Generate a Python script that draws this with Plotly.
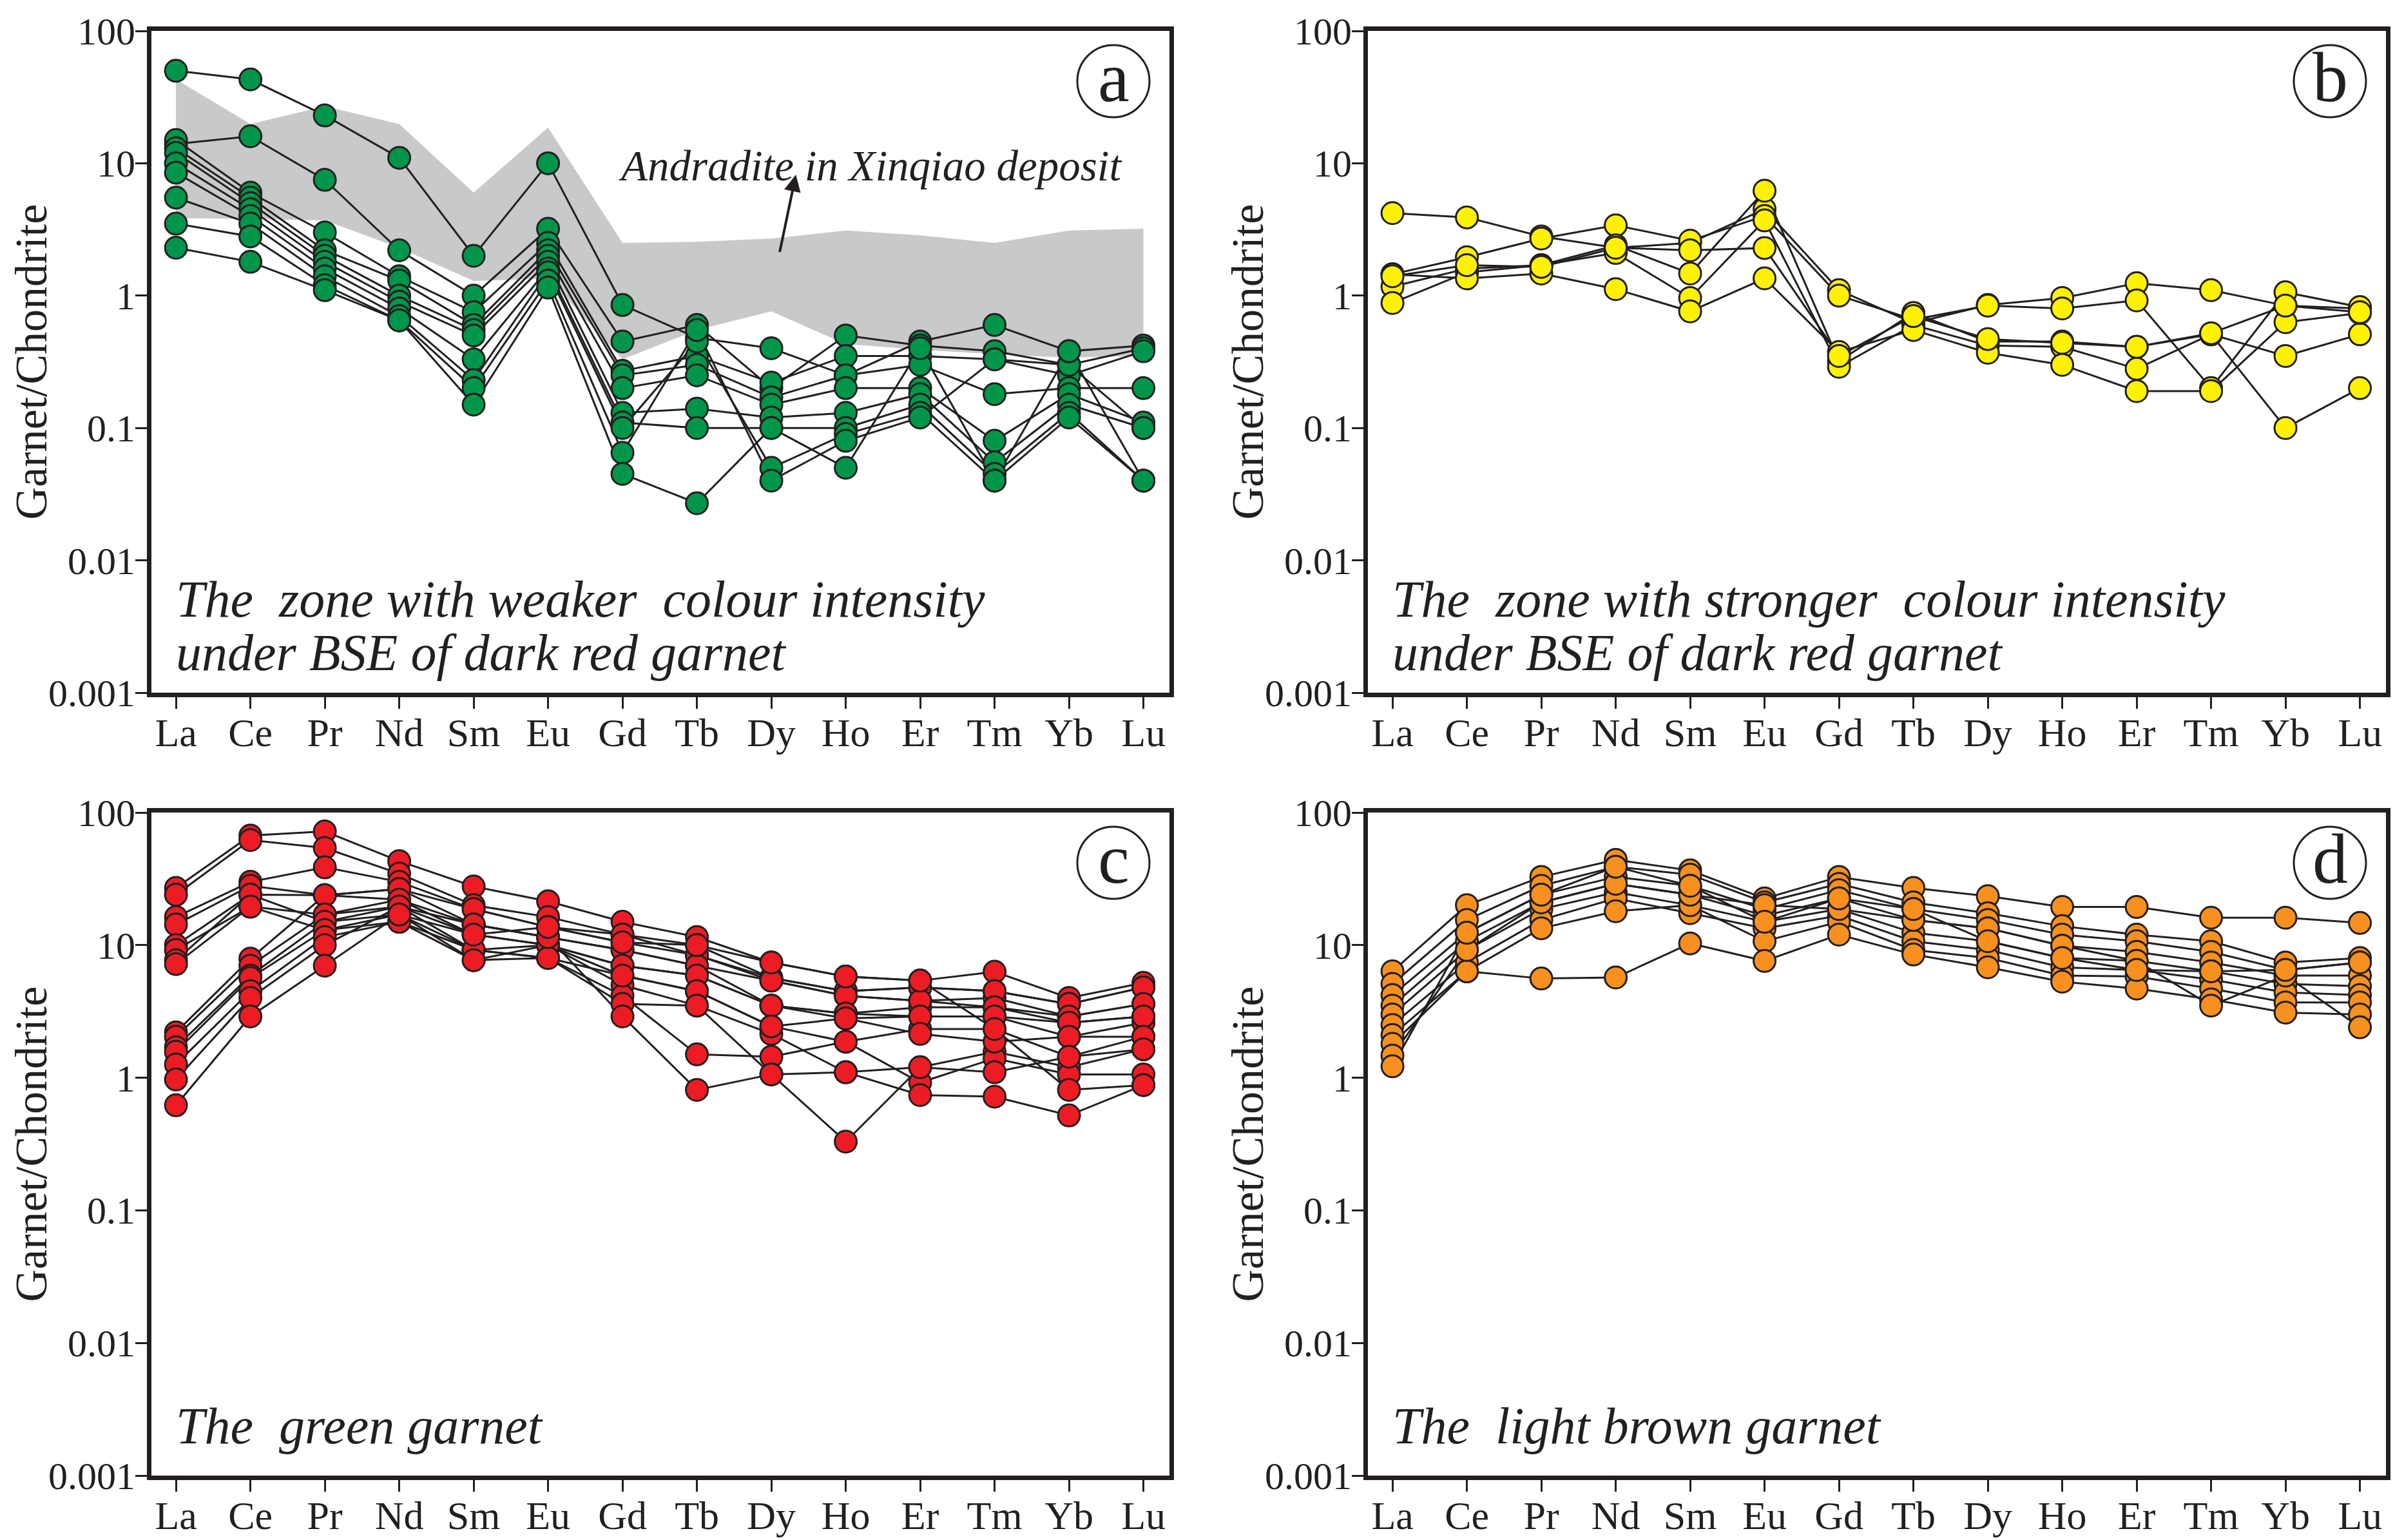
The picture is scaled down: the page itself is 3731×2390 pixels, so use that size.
import math
import plotly.graph_objects as go

# REE chondrite-normalised patterns of garnet, four panels

ELEMENTS = ["La", "Ce", "Pr", "Nd", "Sm", "Eu", "Gd", "Tb", "Dy", "Ho", "Er", "Tm", "Yb", "Lu"]
Y_TICKS = [100, 10, 1, 0.1, 0.01, 0.001]
Y_TICKTEXT = ["100", "10", "1", "0.1", "0.01", "0.001"]

# (a) zone with weaker colour intensity
WEAK_ZONE = [
    [50, 43, 23, 11, 2.0, 10, 0.85, 0.48, 0.4, 0.25, 0.45, 0.6, 0.38, 0.42],
    [14, 16, 7.5, 2.2, 1.0, 3.2, 0.45, 0.6, 0.2, 0.5, 0.42, 0.38, 0.3, 0.4],
    [15, 6, 3, 1.4, 0.75, 2.5, 0.27, 0.35, 0.22, 0.35, 0.35, 0.33, 0.25, 0.38],
    [13, 5.5, 2.2, 1.3, 0.6, 2.2, 0.25, 0.3, 0.17, 0.25, 0.3, 0.18, 0.2, 0.2],
    [12, 5, 2.0, 1.0, 0.55, 2.0, 0.2, 0.25, 0.15, 0.2, 0.2, 0.08, 0.18, 0.11],
    [10, 4.5, 1.8, 0.9, 0.5, 1.8, 0.13, 0.14, 0.12, 0.13, 0.18, 0.055, 0.15, 0.1],
    [8.5, 4, 1.6, 0.8, 0.33, 1.6, 0.11, 0.1, 0.1, 0.1, 0.15, 0.045, 0.13, 0.04],
    [5.5, 3.5, 1.4, 0.7, 0.23, 1.5, 0.1, 0.45, 0.05, 0.09, 0.13, 0.04, 0.12, 0.04],
    [3.5, 2.8, 1.2, 0.65, 0.2, 1.3, 0.065, 0.55, 0.04, 0.08, 0.12, 0.33, 0.3, 0.1],
    [2.3, 1.8, 1.1, 0.65, 0.15, 1.15, 0.045, 0.027, 0.1, 0.05, 0.4, 0.04, 0.38, 0.04],
]

# grey field: andradite in Xinqiao deposit
ANDRADITE_UPPER = [43, 19.8, 27, 19.8, 6.0, 18.6, 2.5, 2.55, 2.7, 3.1, 2.85, 2.5, 3.1, 3.2]
ANDRADITE_LOWER = [3.85, 3.8, 3.7, 2.3, 1.29, 1.35, 0.33, 0.55, 0.76, 0.43, 0.39, 0.36, 0.34, 0.35]

# (b) zone with stronger colour intensity
STRONG_ZONE = [
    [4.2, 3.9, 2.8, 2.3, 2.5, 4.5, 1.1, 0.62, 0.85, 0.96, 1.24, 1.1, 0.84, 0.8],
    [1.45, 1.95, 2.7, 3.4, 2.6, 4.0, 1.0, 0.66, 0.84, 0.8, 0.92, 0.2, 1.06, 0.82],
    [1.17, 1.6, 1.7, 2.4, 1.47, 6.2, 0.32, 0.74, 0.45, 0.45, 0.41, 0.51, 0.35, 0.51],
    [0.88, 1.5, 1.7, 2.1, 0.96, 3.7, 0.29, 0.6, 0.42, 0.41, 0.28, 0.51, 0.1, 0.2],
    [1.45, 1.35, 1.47, 1.12, 0.76, 1.35, 0.375, 0.55, 0.37, 0.3, 0.19, 0.19, 0.63, 0.74],
    [1.4, 1.7, 1.65, 2.3, 2.2, 2.29, 0.35, 0.7, 0.47, 0.44, 0.41, 0.52, 0.84, 0.75],
]

# (c) green garnet
GREEN_GARNET = [
    [27, 67, 72, 43, 27.7, 21.4, 15, 11.5, 7.4, 5.8, 5.4, 6.3, 4.0, 5.2],
    [24, 62, 54, 34.6, 20, 16.3, 12, 10, 5.65, 4.5, 4.8, 4.5, 3.6, 4.8],
    [16.3, 30, 38.6, 30, 18.7, 13.7, 10.5, 8.4, 5.4, 4.15, 3.8, 4.0, 2.9, 3.6],
    [14.3, 28, 23.8, 26.5, 14.3, 11.5, 9.2, 7, 3.5, 3.05, 3.4, 3.4, 2.6, 2.9],
    [10, 24, 23.8, 22, 12, 10, 7, 5.9, 3.5, 2.8, 2.9, 2.9, 2.04, 2.6],
    [9.2, 19.5, 17, 19.5, 9.2, 8, 5.9, 4.5, 2.44, 1.87, 2.33, 2.33, 1.44, 2.04],
    [7.7, 24, 15, 17, 7.7, 10, 5, 3.5, 2.14, 1.1, 1.2, 1.57, 1.2, 1.64],
    [7.2, 19.5, 13, 15, 9.2, 8, 4.15, 1.5, 1.44, 1.87, 0.92, 1.4, 1.06, 1.06],
    [2.2, 7.9, 23.8, 26.5, 18.7, 13.7, 12, 8.4, 5.65, 4.5, 4.8, 4.5, 3.6, 4.8],
    [2.04, 7.0, 17, 22, 14.3, 11.5, 9.2, 7, 5.4, 4.15, 3.8, 3.4, 2.9, 3.6],
    [1.7, 5.9, 15, 19.5, 12, 10, 7, 5.9, 3.5, 3.05, 2.9, 2.9, 2.6, 2.9],
    [1.57, 5.65, 13, 17, 9.2, 10, 5.9, 4.5, 2.44, 2.8, 2.14, 1.87, 2.04, 2.04],
    [1.26, 4.5, 11.5, 15, 7.7, 8, 3.6, 3.5, 1.06, 0.33, 1.2, 1.1, 1.44, 1.64],
    [0.97, 4.0, 10, 19.5, 14.3, 11.5, 2.9, 0.81, 1.06, 1.1, 0.74, 0.72, 0.52, 0.88],
    [0.62, 2.9, 7.0, 17, 12, 13.7, 10.5, 10, 7.4, 5.8, 5.4, 2.33, 0.81, 0.88],
]

# (d) light brown garnet
BROWN_GARNET = [
    [6.35, 20, 32.7, 44, 36.6, 22.5, 32.7, 27, 23.4, 19.4, 19.4, 16.1, 16.1, 14.7],
    [5.1, 15.5, 28, 39, 34, 21, 29, 21, 17.4, 13.9, 12, 10.7, 7.4, 8.0],
    [4.2, 12.4, 24, 32.7, 28, 18.7, 26, 18.7, 15.5, 12, 10.7, 8.9, 6.5, 7.4],
    [3.5, 10.7, 21, 29, 24, 16.7, 22.5, 15.5, 13.4, 9.9, 8.9, 7.4, 5.9, 5.9],
    [3.0, 9.2, 18.7, 25, 20, 15, 18.7, 12.4, 10.7, 8.0, 7.6, 6.35, 5.1, 4.9],
    [2.5, 7.4, 15.5, 22.5, 17.4, 13.4, 16.7, 10.7, 9.2, 6.8, 6.5, 5.5, 4.4, 4.2],
    [2.1, 6.35, 13.4, 18, 20, 10.7, 15, 9.2, 8.0, 5.9, 5.8, 4.7, 3.7, 3.7],
    [1.8, 6.35, 5.6, 5.7, 10.3, 7.6, 12, 8.5, 6.8, 5.3, 4.7, 3.9, 3.1, 3.0],
    [1.47, 9.2, 21, 29, 24, 20, 18.7, 15.5, 13.4, 9.9, 7.6, 3.5, 5.9, 2.4],
    [1.22, 12.4, 24, 39, 28, 15, 22.5, 18.7, 10.7, 8.0, 6.5, 6.35, 6.5, 7.4],
]

W, H = 3731, 2390
INK = "#231f20"
FONT = "Liberation Serif, Times New Roman, serif"

# panel boxes in pixels: left, right, top, bottom
PANELS = [
    ("a", WEAK_ZONE, "#00964a", (227, 1807, 40, 1067),
     ["The\u00a0 zone with weaker\u00a0 colour intensity", "under BSE of dark red garnet"]),
    ("b", STRONG_ZONE, "#fff200", (2115, 3695, 40, 1067),
     ["The\u00a0 zone with stronger\u00a0 colour intensity", "under BSE of dark red garnet"]),
    ("c", GREEN_GARNET, "#ed1c24", (227, 1807, 1253, 2282), ["The\u00a0 green garnet"]),
    ("d", BROWN_GARNET, "#f7901e", (2115, 3695, 1253, 2282), ["The\u00a0 light brown garnet"]),
]

fig = go.Figure()
annotations = []
shapes = []
idx = list(range(len(ELEMENTS)))

for i, (letter, samples, colour, box, caption) in enumerate(PANELS):
    n = "" if i == 0 else str(i + 1)
    xa, ya = "x" + n, "y" + n
    left, right, top, bottom = box

    if letter == "a":
        fig.add_trace(go.Scatter(
            x=idx + idx[::-1], y=ANDRADITE_UPPER + ANDRADITE_LOWER[::-1],
            fill="toself", fillcolor="#c8c9c9", line=dict(width=0),
            mode="lines", xaxis=xa, yaxis=ya, hoverinfo="skip"))

    lx, ly = [], []
    for s in samples:
        lx += idx + [None]
        ly += s + [None]
    fig.add_trace(go.Scatter(x=lx, y=ly, mode="lines", line=dict(color=INK, width=3),
                             xaxis=xa, yaxis=ya, hoverinfo="skip"))
    fig.add_trace(go.Scatter(x=lx, y=ly, mode="markers",
                             marker=dict(size=34, color=colour, line=dict(color=INK, width=3)),
                             xaxis=xa, yaxis=ya))

    xdom = [left / W, right / W]
    ydom = [1 - bottom / H, 1 - top / H]
    fig.layout["xaxis" + n] = dict(
        domain=xdom, anchor=ya, range=[-0.33, 13.35], automargin=False,
        tickvals=idx, ticktext=ELEMENTS, ticks="outside", ticklen=18, tickwidth=3,
        ticklabelstandoff=-16,
        tickcolor=INK, showline=True, linewidth=7, linecolor=INK, mirror=True,
        showgrid=False, zeroline=False, tickfont=dict(family=FONT, size=62, color=INK))
    fig.layout["yaxis" + n] = dict(
        domain=ydom, anchor=xa, type="log", range=[-3, 2], automargin=False,
        tickvals=Y_TICKS, ticktext=Y_TICKTEXT, ticks="outside", ticklen=18, tickwidth=3,
        ticklabelstandoff=-12,
        tickcolor=INK, showline=True, linewidth=7, linecolor=INK, mirror=True,
        showgrid=False, zeroline=False, tickfont=dict(family=FONT, size=60, color=INK))

    # axis title
    annotations.append(dict(
        text="Garnet/Chondrite", textangle=-90, xref="paper", yref="paper",
        xanchor="center", yanchor="middle",
        x=(left - 187) / W, y=1 - (top + bottom) / 2 / H, showarrow=False,
        font=dict(family=FONT, size=70, color=INK)))

    # panel letter in a circle
    cx, cy, r = right - 87, top + 78, 56
    shapes.append(dict(type="circle", xref="paper", yref="paper",
                       x0=(cx - r) / W, x1=(cx + r) / W,
                       y0=1 - (cy + r) / H, y1=1 - (cy - r) / H,
                       line=dict(color=INK, width=3), fillcolor="white"))
    annotations.append(dict(text=letter, xref="paper", yref="paper",
                            xanchor="center", yanchor="middle",
                            x=cx / W, y=1 - (cy - 6) / H, showarrow=False,
                            font=dict(family=FONT, size=110, color=INK)))

    # caption, one or two lines
    first = bottom - 145 if len(caption) == 2 else bottom - 77
    for k, line in enumerate(caption):
        annotations.append(dict(
            text=f"<i>{line}</i>", xref="paper", yref="paper",
            xanchor="left", yanchor="middle",
            x=(left + 36) / W, y=1 - (first + 83 * k) / H,
            showarrow=False, font=dict(family=FONT, size=80, color=INK)))

# label and arrow for the andradite field (panel a)
annotations.append(dict(
    text="<i>Andradite in Xinqiao deposit</i>", xref="x", yref="y",
    xanchor="center", yanchor="middle",
    x=9.33, y=math.log10(9.6), showarrow=False,
    font=dict(family=FONT, size=67, color=INK)))
annotations.append(dict(
    text="", xref="x", yref="y", axref="x", ayref="y",
    x=8.33, y=math.log10(8.2), ax=8.11, ay=math.log10(2.1),
    showarrow=True, arrowhead=2, arrowsize=1.3, arrowwidth=4, arrowcolor=INK))

fig.update_layout(
    template="none",
    width=W, height=H, autosize=False, showlegend=False,
    margin=dict(l=0, r=0, t=0, b=0),
    paper_bgcolor="white", plot_bgcolor="white",
    annotations=annotations, shapes=shapes)

fig.write_html("out.html")
